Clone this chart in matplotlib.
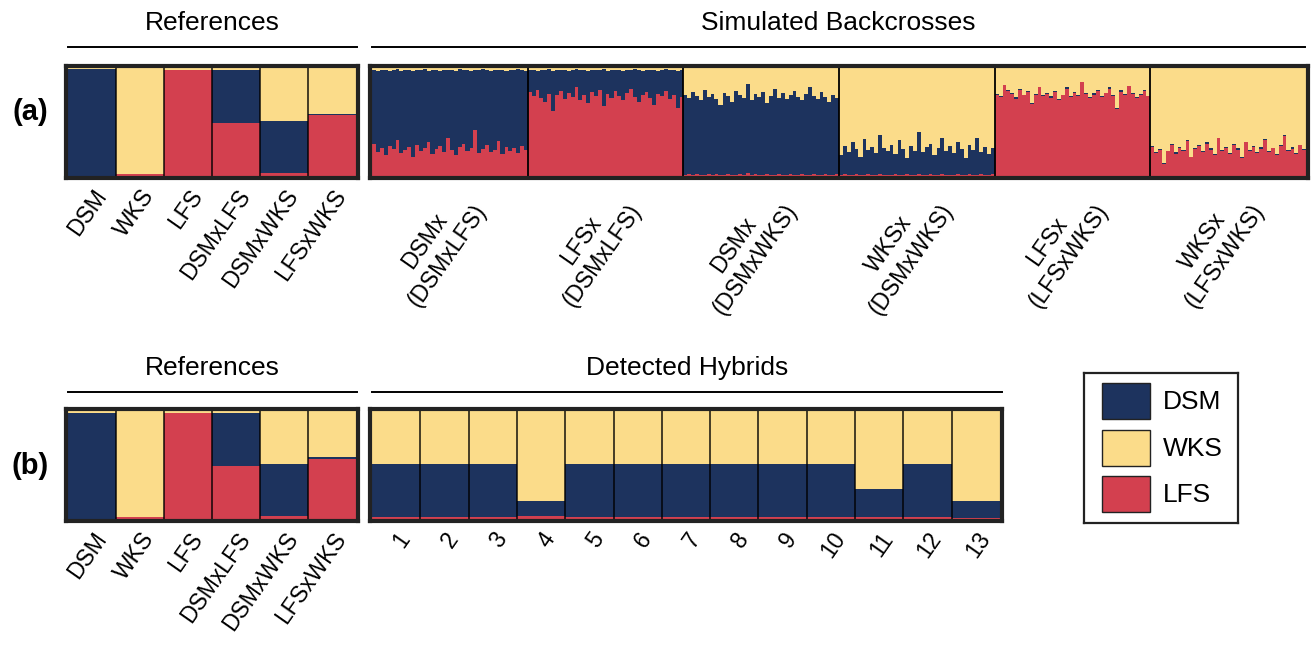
import matplotlib
matplotlib.use("Agg")
import matplotlib.pyplot as plt
import numpy as np
from matplotlib.patches import Rectangle

plt.rcParams['font.family'] = ['Liberation Sans', 'DejaVu Sans']

# ---------------- data ----------------
ref_labels = ["DSM", "WKS", "LFS", "DSMxLFS", "DSMxWKS", "LFSxWKS"]
# panel (a) references: fractions (LFS, DSM, WKS)
ref_a_lfs = [0.000, 0.018, 0.982, 0.490, 0.025, 0.568]
ref_a_dsm = [0.990, 0.000, 0.000, 0.492, 0.485, 0.005]
ref_a_wks = [0.010, 0.982, 0.018, 0.018, 0.490, 0.427]
# panel (b) references
ref_b_lfs = [0.000, 0.015, 0.980, 0.490, 0.025, 0.560]
ref_b_dsm = [0.985, 0.000, 0.000, 0.490, 0.480, 0.010]
ref_b_wks = [0.015, 0.985, 0.020, 0.020, 0.495, 0.430]

bc_labels = ["DSMx\n(DSMxLFS)", "LFSx\n(DSMxLFS)", "DSMx\n(DSMxWKS)",
             "WKSx\n(DSMxWKS)", "LFSx\n(LFSxWKS)", "WKSx\n(LFSxWKS)"]
# simulated backcrosses (percent values per individual)
# DSMx(DSMxLFS): LFS share (bottom), WKS share (top)
bc1_lfs = [30,22,26,19,28,25,33,21,24,27,18,29,23,26,31,20,25,28,22,35,
           24,19,27,30,23,26,43,21,25,29,22,24,32,20,27,23,26,21,28,24]
bc1_wks = [2,3,2,2,3,2,1,3,2,2,3,2,2,1,3,2,2,3,2,2,
           2,3,1,2,2,3,2,2,1,2,3,2,2,2,3,2,2,1,2,3]
# LFSx(DSMxLFS): LFS share, WKS share
bc2_lfs = [78,74,80,72,69,76,60,75,79,71,77,73,82,70,75,68,78,74,80,65,
           76,72,79,74,70,77,81,73,69,75,78,72,66,76,74,79,71,75,63,73]
bc2_wks = [2,2,3,2,2,1,3,2,2,2,3,2,1,2,2,3,2,2,2,1,
           3,2,2,2,3,2,2,1,2,3,2,2,2,3,2,1,2,2,3,2]
# DSMx(DSMxWKS): LFS share, DSM share
bc3_lfs = [1,2,1,2,1,1,2,1,2,1,1,2,1,1,2,1,3,1,2,1,
           1,2,1,1,2,1,1,2,1,1,2,1,1,2,1,1,2,1,1,2]
bc3_dsm = [74,70,77,72,69,79,71,75,69,65,76,72,68,78,73,71,82,69,74,72,
           77,66,73,80,70,76,70,73,78,72,68,75,81,72,70,77,71,68,74,70]
# WKSx(DSMxWKS): LFS share, DSM share
bc4_lfs = [1,2,1,1,2,1,1,2,1,1,2,1,1,1,2,1,1,2,1,1,
           2,1,1,2,1,1,2,1,1,1,2,1,1,2,1,1,2,1,1,2]
bc4_dsm = [18,26,21,30,23,17,33,22,26,20,36,25,22,28,18,32,24,15,27,22,
           39,21,26,28,18,25,33,22,27,20,29,24,16,27,23,34,20,26,19,24]
# LFSx(LFSxWKS): LFS share, DSM share
bc5_lfs = [75,73,84,79,76,71,80,75,78,67,75,82,74,76,72,78,70,75,81,73,
           77,74,87,76,72,75,79,73,77,81,74,62,78,75,83,76,72,75,79,74]
bc5_dsm = [1,1,0,1,1,2,1,0,1,1,1,0,1,1,2,1,1,0,1,1,
           1,1,0,1,1,2,1,1,0,1,1,1,2,1,0,1,1,1,1,0]
# WKSx(LFSxWKS): LFS share, DSM share
bc6_lfs = [27,21,24,11,23,29,20,26,23,32,18,25,28,22,30,24,19,35,23,26,
           20,29,24,17,31,23,27,21,25,33,22,26,19,28,37,23,25,20,29,24]
bc6_dsm = [1,1,1,1,0,1,2,1,1,1,0,1,1,1,1,2,1,0,1,1,
           1,1,2,1,0,1,1,1,2,1,1,0,1,1,1,1,2,1,0,1]

hyb_labels = [str(i) for i in range(1, 14)]
hyb_lfs = [0.020, 0.020, 0.020, 0.030, 0.020, 0.020, 0.020, 0.020, 0.020, 0.020, 0.015, 0.020, 0.010]
hyb_dsm = [0.490, 0.490, 0.490, 0.140, 0.490, 0.490, 0.490, 0.490, 0.490, 0.490, 0.265, 0.490, 0.160]

legend_labels = ["DSM", "WKS", "LFS"]

# ---------------- style ----------------
C_DSM = "#1d335e"
C_WKS = "#fbdc8a"
C_LFS = "#d3404f"
FRAME = "#222222"
FS_TICK = 16.5
FS_HEAD = 19
ROT = 55
SPINE_PT = 3.0
SPINE_HALF_PX = SPINE_PT * 100 / 72 / 2

W, H = 1312, 645
fig = plt.figure(figsize=(W / 100, H / 100), dpi=100)


def ax_px(x0, y0, x1, y1):
    ax = fig.add_axes([x0 / W, 1 - y1 / H, (x1 - x0) / W, (y1 - y0) / H])
    ax._wpx = x1 - x0
    ax._hpx = y1 - y0
    return ax


def frame(ax, n):
    for s in ax.spines.values():
        s.set_linewidth(SPINE_PT)
        s.set_color(FRAME)
    my = SPINE_HALF_PX / (ax._hpx - 2 * SPINE_HALF_PX)
    mx = n * SPINE_HALF_PX / (ax._wpx - 2 * SPINE_HALF_PX)
    ax.set_ylim(-my, 1 + my)
    ax.set_xlim(-mx, n + mx)
    ax.set_yticks([])
    ax.tick_params(axis='x', length=0, pad=5)


def stack(ax, x, lfs, dsm, width=1.0, **kw):
    lfs = np.asarray(lfs, float)
    dsm = np.asarray(dsm, float)
    wks = 1 - lfs - dsm
    ax.bar(x, lfs, width=width, color=C_LFS, align='edge', **kw)
    ax.bar(x, dsm, width=width, bottom=lfs, color=C_DSM, align='edge', **kw)
    ax.bar(x, wks, width=width, bottom=lfs + dsm, color=C_WKS, align='edge', **kw)


def ref_panel(ax, lfs, dsm, wks):
    lfs = np.asarray(lfs); dsm = np.asarray(dsm); wks = np.asarray(wks)
    tot = lfs + dsm + wks
    x = np.arange(len(lfs))
    stack(ax, x, lfs / tot, dsm / tot, linewidth=0, antialiased=False)
    for b in range(1, len(lfs)):
        ax.axvline(b, color="black", lw=1.2, alpha=0.85)
    frame(ax, len(lfs))
    ax.set_xticks(x + 0.5)
    ax.set_xticklabels(ref_labels, rotation=ROT, ha='right', rotation_mode='anchor', fontsize=FS_TICK)


def header(x0, x1, y_line, text):
    fig.add_artist(plt.Line2D([x0 / W, x1 / W], [1 - y_line / H] * 2, color="black", lw=1.4))
    fig.text((x0 + x1) / 2 / W, 1 - (y_line - 24) / H, text, ha='center', va='center', fontsize=FS_HEAD)


# ---- panel (a) references ----
axa1 = ax_px(66, 66, 358, 178)
ref_panel(axa1, ref_a_lfs, ref_a_dsm, ref_a_wks)

# ---- panel (a) backcrosses ----
axa2 = ax_px(370, 66, 1308, 178)
groups = [
    (np.array(bc1_lfs) / 100, 1 - np.array(bc1_lfs) / 100 - np.array(bc1_wks) / 100),
    (np.array(bc2_lfs) / 100, 1 - np.array(bc2_lfs) / 100 - np.array(bc2_wks) / 100),
    (np.array(bc3_lfs) / 100, np.array(bc3_dsm) / 100),
    (np.array(bc4_lfs) / 100, np.array(bc4_dsm) / 100),
    (np.array(bc5_lfs) / 100, np.array(bc5_dsm) / 100),
    (np.array(bc6_lfs) / 100, np.array(bc6_dsm) / 100),
]
all_lfs = np.concatenate([g[0] for g in groups])
all_dsm = np.concatenate([g[1] for g in groups])
n_per = [len(g[0]) for g in groups]
xs = np.arange(len(all_lfs))
stack(axa2, xs, all_lfs, all_dsm, width=1.06, linewidth=0, antialiased=False)
bounds = np.cumsum(n_per)
for b in bounds[:-1]:
    axa2.axvline(b, color="black", lw=1.3)
frame(axa2, len(all_lfs))
centers = np.concatenate([[0], bounds[:-1]]) + np.array(n_per) / 2
axa2.set_xticks(centers)
axa2.set_xticklabels(bc_labels, rotation=ROT, ha='right', rotation_mode='anchor',
                     fontsize=FS_TICK, multialignment='center')

# ---- panel (b) references ----
axb1 = ax_px(66, 409, 358, 521)
ref_panel(axb1, ref_b_lfs, ref_b_dsm, ref_b_wks)

# ---- panel (b) hybrids ----
axb2 = ax_px(370, 409, 1002, 521)
xh = np.arange(len(hyb_lfs))
stack(axb2, xh, hyb_lfs, hyb_dsm, linewidth=0, antialiased=False)
for b in range(1, len(hyb_lfs)):
    axb2.axvline(b, color="black", lw=1.2, alpha=0.85)
frame(axb2, len(hyb_lfs))
axb2.set_xticks(xh + 0.5)
axb2.set_xticklabels(hyb_labels, rotation=ROT, ha='right', rotation_mode='anchor', fontsize=FS_TICK)

# ---- headers ----
header(68, 357, 47, "References")
header(372, 1305, 47, "Simulated Backcrosses")
header(68, 357, 392, "References")
header(372, 1002, 392, "Detected Hybrids")

fig.text(30 / W, 1 - 112 / H, "(a)", ha='center', va='center', fontsize=21, fontweight='bold')
fig.text(30 / W, 1 - 466 / H, "(b)", ha='center', va='center', fontsize=21, fontweight='bold')

# ---- legend ----
lax = ax_px(1084, 373, 1238, 523)
lax.set_xlim(0, 154)
lax.set_ylim(150, 0)
lax.set_xticks([]); lax.set_yticks([])
for s in lax.spines.values():
    s.set_linewidth(1.6)
    s.set_color(FRAME)
for i, (lab, col) in enumerate(zip(legend_labels, [C_DSM, C_WKS, C_LFS])):
    y0 = 10 + i * 46.5
    lax.add_patch(Rectangle((18, y0), 48, 36, facecolor=col, edgecolor=FRAME, lw=1.0))
    lax.text(79, y0 + 19, lab, ha='left', va='center', fontsize=FS_HEAD)

fig.savefig("out.png", dpi=100)
